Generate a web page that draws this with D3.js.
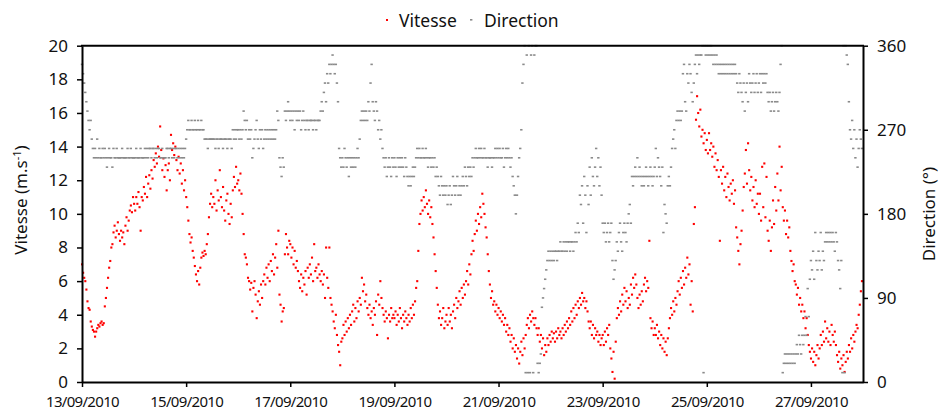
<!DOCTYPE html>
<html>
<head>
<meta charset="utf-8">
<script src="https://cdn.jsdelivr.net/npm/d3@7"></script>
<style>
  body { margin: 0; background: #fff; }
  text { font-family: "Noto Sans", sans-serif; fill: #111; }
</style>
</head>
<body>
<svg id="chart" width="939" height="412"></svg>
<script>
// Période de mesure (UTC), un relevé toutes les 30 minutes
const dateDebut = "2010-09-13";
const dateFin = "2010-09-28";

// Vitesse du vent (m/s), une ligne par jour
const vitesseParJour = [
  [7.0,6.5,6.2,6.0,5.5,4.8,4.4,4.3,3.6,3.3,3.1,3.0,2.7,3.0,3.2,3.4,3.3,3.5,3.6,3.4,3.5,4.5,5.0,5.6,6.2,6.8,7.2,8.0,8.2,8.9,9.3,8.6,9.0,9.5,8.8,8.4,9.0,8.6,8.9,8.2,9.3,9.8,9.0,9.6,10.2,10.5,10.1,11.0],
  [10.6,10.2,11.0,10.6,11.3,10.4,9.0,11.0,10.8,11.6,11.2,12.2,11.0,11.8,12.3,11.5,12.6,12.1,13.2,12.8,13.6,13.0,14.0,13.4,15.2,13.8,12.6,13.3,12.2,12.9,11.4,12.6,13.0,12.0,14.7,13.8,14.2,13.5,14.0,13.2,12.6,13.4,12.4,13.0,11.8,12.6,11.4,12.0],
  [11.0,10.4,9.6,8.8,8.3,8.6,7.8,7.4,6.9,6.4,6.0,6.6,5.8,6.8,7.4,7.7,7.5,7.8,7.6,8.2,8.8,9.8,10.6,11.2,10.4,11.0,10.6,12.0,10.2,11.4,10.8,12.6,11.0,10.4,11.6,10.2,9.6,10.8,11.2,10.0,9.4,10.6,9.8,11.4,12.2,11.6,12.8,11.8],
  [12.0,11.4,12.4,11.2,10.0,8.8,7.6,7.4,7.0,6.2,6.0,5.5,5.9,4.2,5.6,6.0,5.2,3.8,4.8,5.4,4.6,5.8,5.0,6.0,6.4,5.8,6.8,6.2,7.0,6.0,7.2,6.6,7.6,6.4,7.4,8.2,6.8,9.0,5.2,4.6,3.6,4.2,4.4,7.6,8.8,8.0,7.6,8.4],
  [8.2,7.4,8.0,7.0,7.8,6.8,7.2,6.6,6.0,5.6,6.4,5.4,6.2,5.8,6.6,5.2,6.8,6.2,7.0,6.4,7.4,6.0,8.2,6.6,6.8,6.2,7.0,6.4,6.0,6.6,5.8,6.4,5.0,8.0,6.2,5.6,8.0,5.0,4.6,4.2,3.6,3.2,4.0,2.8,2.2,1.8,1.0,2.4],
  [2.6,3.4,2.8,3.6,3.0,3.8,3.2,4.0,3.4,4.2,4.6,3.6,4.4,3.8,4.8,4.2,5.0,4.6,6.2,5.4,5.8,4.8,5.2,4.4,4.0,4.6,3.8,4.2,3.4,4.4,4.0,4.8,2.8,5.2,4.6,6.0,5.0,4.4,4.0,3.6,4.2,3.8,2.6,4.0,3.6,4.4,3.8,4.0],
  [3.8,4.2,3.4,4.0,3.6,4.4,3.8,3.2,4.0,3.6,4.2,3.8,3.4,4.0,3.6,4.4,3.8,4.6,4.0,4.8,5.6,6.0,7.8,9.4,10.0,10.8,10.2,11.0,10.4,11.4,10.6,10.0,10.8,9.8,10.4,9.4,8.6,7.6,6.6,5.6,4.6,3.8,4.2,3.4,3.8,4.4,3.2,3.6],
  [4.0,3.4,4.4,3.6,4.0,3.2,4.2,4.6,3.8,5.0,4.4,4.8,5.4,4.6,5.6,5.0,5.8,5.2,6.0,6.6,5.8,7.0,6.4,7.6,8.4,7.8,8.8,9.6,9.0,10.0,9.4,10.4,9.8,11.2,10.6,10.0,9.2,8.6,7.6,6.6,5.8,5.0,5.4,4.6,4.8,4.2,4.6,4.0],
  [4.4,3.8,4.2,3.6,4.0,3.4,3.8,3.0,3.4,2.8,3.2,2.4,2.8,2.0,2.6,1.8,2.2,1.4,2.0,1.1,1.8,2.4,1.6,2.6,2.0,2.8,3.4,3.8,3.2,4.0,3.6,4.2,3.8,3.4,3.8,3.2,2.8,3.2,2.4,2.8,2.0,2.6,1.6,2.2,1.8,2.6,2.2,2.8],
  [2.4,3.0,2.6,2.9,2.4,3.0,2.6,3.2,2.8,3.0,2.6,3.2,2.8,3.4,3.0,3.6,3.2,3.8,3.4,4.2,3.6,4.4,3.8,4.6,4.0,4.8,4.4,5.0,4.6,5.3,4.8,5.0,4.4,4.8,4.2,3.6,3.2,3.6,2.8,3.4,2.6,3.2,2.8,3.0,2.4,2.8,2.2,2.6],
  [2.8,2.2,3.0,2.4,3.2,2.8,3.4,2.0,1.4,0.6,1.8,0.2,2.4,3.8,4.4,4.0,4.8,4.2,5.2,4.6,5.6,4.8,5.4,4.4,5.0,4.6,5.8,5.2,6.2,5.6,6.4,5.8,5.0,4.4,5.2,4.6,5.4,4.8,5.8,6.2,5.4,6.0,5.6,8.4,3.8,3.2,3.6,2.8],
  [3.2,2.8,3.4,2.6,3.0,2.2,2.8,2.0,2.6,1.8,2.4,1.6,2.6,3.2,3.8,4.4,4.0,4.8,4.2,5.0,4.6,5.4,6.0,5.2,6.2,5.6,6.6,5.8,6.8,6.2,7.4,6.4,7.0,4.6,6.0,4.2,9.4,10.4,15.6,17.0,16.0,15.2,16.2,14.6,15.0,14.2,14.8,13.8],
  [14.4,13.6,14.8,13.8,14.2,13.4,14.0,12.8,13.6,12.6,13.2,12.2,8.4,12.6,11.8,12.8,11.4,12.2,11.0,12.4,11.6,10.8,11.8,11.2,12.0,10.6,11.4,9.2,8.6,7.8,7.0,8.2,9.0,10.2,11.6,12.4,13.8,11.8,14.2,12.6,11.4,12.2,10.8,11.6,10.4,12.0,10.6,11.2],
  [10.0,11.2,9.6,12.8,10.4,13.0,9.8,12.2,9.0,8.4,9.6,7.8,9.2,10.8,9.4,11.6,10.2,12.4,10.8,14.0,11.4,12.8,10.4,9.6,10.2,8.8,9.6,8.6,9.2,7.8,7.2,6.6,7.0,6.0,5.8,5.2,5.6,4.6,5.0,4.2,4.6,3.8,4.2,3.2,3.8,2.8,2.2,1.8],
  [1.4,2.0,1.2,1.8,1.0,1.6,2.2,1.4,2.0,2.8,2.2,3.0,2.4,3.6,2.6,3.2,2.4,3.0,2.2,3.4,2.8,2.4,3.0,2.2,1.6,1.2,1.8,0.8,1.4,1.0,1.6,0.6,1.2,1.8,1.4,2.2,1.8,2.6,2.0,2.8,2.4,3.0,3.4,3.2,4.0,4.6,5.4,6.0]
];

// Direction du vent (degrés), une ligne par jour
const directionParJour = [
  [340,330,320,310,300,290,280,270,280,260,250,240,250,240,260,240,250,240,240,250,240,250,240,230,240,250,240,240,230,250,240,240,250,240,240,240,240,250,240,240,240,240,250,240,240,250,240,240],
  [240,240,250,240,240,240,250,240,240,240,250,240,250,240,250,250,240,250,250,240,250,240,250,250,240,240,250,240,240,240,250,250,240,250,250,240,250,240,250,250,240,250,240,250,240,250,240,250],
  [260,270,280,270,270,280,270,270,280,270,270,280,270,270,280,270,270,260,260,260,250,260,260,260,260,260,260,250,260,260,250,260,260,260,250,260,260,260,250,260,260,260,250,270,260,270,260,270],
  [270,260,270,260,270,290,280,270,280,260,270,260,270,240,250,260,270,280,260,250,270,260,270,250,260,270,260,270,260,270,260,270,260,270,260,270,290,280,240,230,220,240,230,290,280,290,300,290],
  [280,290,280,290,270,290,280,290,280,290,270,280,290,280,270,280,280,270,280,280,280,270,280,280,270,280,280,280,290,300,290,310,320,300,330,320,340,330,340,350,340,330,340,320,300,250,240,230],
  [240,230,250,240,230,240,220,240,230,240,230,240,230,240,250,240,260,280,290,280,290,280,290,280,300,290,320,340,300,290,280,300,290,270,280,260,270,250,240,230,240,220,230,240,230,220,240,230],
  [240,230,220,240,230,240,230,240,230,220,240,230,220,210,220,210,220,230,220,230,240,250,240,250,240,240,250,240,240,250,240,230,240,240,230,240,230,240,220,230,220,210,200,220,210,200,210,200],
  [210,190,200,210,190,200,220,210,200,210,220,200,210,200,210,220,210,230,220,210,230,220,230,220,240,230,240,250,240,240,250,240,250,240,240,250,240,240,230,240,240,240,230,240,240,250,240,250],
  [240,250,240,240,250,230,240,250,240,250,240,230,240,220,210,200,180,200,220,240,250,270,320,340,360,10,350,10,360,10,350,360,10,350,360,360,20,10,20,30,80,90,100,110,120,130,140,130],
  [140,130,140,130,140,140,130,140,140,150,140,140,150,140,150,140,150,150,140,150,150,140,150,160,150,170,160,200,190,210,170,220,200,160,210,190,230,200,240,220,210,230,250,220,240,210,230,200],
  [170,160,170,150,160,170,150,160,170,130,110,120,130,150,140,160,170,150,140,160,170,160,150,170,180,190,170,220,210,220,230,220,240,220,230,220,210,220,210,220,230,220,210,220,230,220,210,220],
  [230,250,220,240,230,220,210,230,160,190,180,170,210,220,210,230,250,260,270,250,280,290,280,290,280,290,330,340,300,290,330,320,340,330,310,300,320,340,350,330,350,340,350,350,360,10,360,350],
  [360,350,360,350,360,350,340,350,340,350,340,330,340,330,340,330,340,330,340,330,340,330,340,330,340,330,340,330,320,310,330,320,310,300,320,290,310,320,300,330,320,310,320,330,310,320,330,310],
  [320,330,310,330,320,330,320,330,310,300,310,290,300,310,290,300,310,300,290,310,340,360,10,20,30,20,30,20,30,20,30,20,30,20,30,40,30,50,40,30,50,40,50,70,50,100,70,110],
  [130,120,140,110,160,130,120,140,130,160,120,140,130,150,160,150,160,150,160,150,160,150,140,160,150,130,120,100,130,10,360,10,360,350,340,300,270,260,280,250,270,240,260,230,250,270,260,250]
];

// Graduations des axes
const ticksVitesse = [0, 2, 4, 6, 8, 10, 12, 14, 16, 18, 20];
const ticksDirection = [0, 90, 180, 270, 360];
const nomsSeries = ["Vitesse", "Direction"];
const couleurs = { Vitesse: "#ff0000", Direction: "#8a8a8a" };

const svg = d3.select("#chart");
const plot = { left: 82, right: 863, top: 45.7, bottom: 382 };

const parse = d3.utcParse("%Y-%m-%d");
const t0 = parse(dateDebut), t1 = parse(dateFin);
const jourMs = 864e5;

const x = d3.scaleUtc().domain([t0, t1]).range([plot.left, plot.right]);
const yV = d3.scaleLinear().domain([0, 20]).range([plot.bottom, plot.top]);
const yD = d3.scaleLinear().domain([0, 360]).range([plot.bottom, plot.top]);

// Déplie les valeurs journalières en une série horodatée
function deplier(parJour) {
  const out = [];
  parJour.forEach((vals, d) => {
    vals.forEach((v, j) => {
      out.push({ t: new Date(+t0 + (d + j / vals.length) * jourMs), v });
    });
  });
  return out;
}
const vitesse = deplier(vitesseParJour);
const direction = deplier(directionParJour);

// Nuage de points : vitesse (axe gauche)
svg.append("g").selectAll("rect").data(vitesse).join("rect")
  .attr("x", d => x(d.t) - 1).attr("y", d => yV(d.v) - 1)
  .attr("width", 2.1).attr("height", 2.1)
  .attr("fill", couleurs.Vitesse);

// Nuage de points : direction (axe droit)
svg.append("g").selectAll("rect").data(direction).join("rect")
  .attr("x", d => x(d.t) - 1.2).attr("y", d => yD(d.v) - 0.8)
  .attr("width", 2.4).attr("height", 1.6)
  .attr("fill", couleurs.Direction);

// Axes
function styleAxe(g) {
  g.select(".domain").attr("stroke", "#000").attr("stroke-width", 2);
  g.selectAll(".tick line").attr("stroke", "#000").attr("stroke-width", 1.5);
  g.selectAll(".tick text").attr("fill", "#111");
}

const ticksDates = d3.utcDay.every(2).range(t0, new Date(+t1 + 1)).filter(d => d < t1);
svg.append("g")
  .attr("transform", `translate(0,${plot.bottom})`)
  .call(d3.axisBottom(x).tickValues(ticksDates).tickFormat(d3.utcFormat("%d/%m/%Y"))
    .tickSize(5).tickSizeOuter(0).tickPadding(9))
  .call(styleAxe)
  .call(g => g.selectAll(".tick text").style("font-size", "15px").style("letter-spacing", "-0.7px"));

svg.append("g")
  .attr("transform", `translate(${plot.left},0)`)
  .call(d3.axisLeft(yV).tickValues(ticksVitesse).tickSize(5).tickSizeOuter(0).tickPadding(9))
  .call(styleAxe)
  .call(g => g.selectAll(".tick text").style("font-size", "17px"));

svg.append("g")
  .attr("transform", `translate(${plot.right},0)`)
  .call(d3.axisRight(yD).tickValues(ticksDirection).tickSize(5).tickSizeOuter(0).tickPadding(9))
  .call(styleAxe)
  .call(g => g.selectAll(".tick text").style("font-size", "17px"));

// Bord supérieur du cadre
svg.append("line")
  .attr("x1", plot.left - 1).attr("x2", plot.right + 1)
  .attr("y1", plot.top).attr("y2", plot.top)
  .attr("stroke", "#000").attr("stroke-width", 2);

// Titres des axes
const titreG = svg.append("text")
  .attr("transform", "translate(27,200) rotate(-90)")
  .attr("text-anchor", "middle").style("font-size", "17px");
titreG.append("tspan").text("Vitesse (m.s");
titreG.append("tspan").attr("dy", -6).style("font-size", "11px").text("-1");
titreG.append("tspan").attr("dy", 6).text(")");

svg.append("text")
  .attr("transform", "translate(935,214) rotate(-90)")
  .attr("text-anchor", "middle").style("font-size", "17px")
  .text("Direction (°)");

// Légende
const legendePos = [{ x: 387, tx: 399 }, { x: 471, tx: 484 }];
nomsSeries.forEach((nom, i) => {
  const p = legendePos[i];
  svg.append("rect")
    .attr("x", p.x - 1).attr("y", 20 - 1)
    .attr("width", i === 0 ? 2 : 2.4).attr("height", i === 0 ? 2 : 1.6)
    .attr("fill", couleurs[nom]);
  svg.append("text").attr("x", p.tx).attr("y", 27)
    .style("font-size", "17.5px").text(nom);
});
</script>
</body>
</html>
